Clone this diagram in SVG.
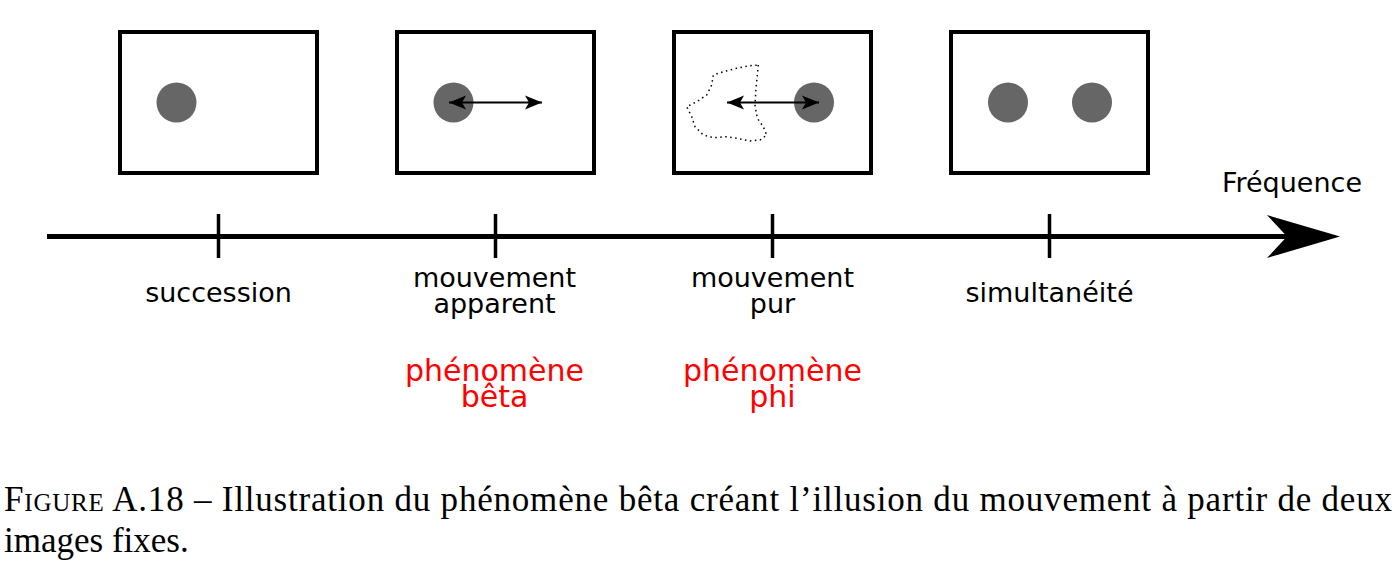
<svg xmlns="http://www.w3.org/2000/svg" width="1399" height="563" viewBox="0 0 1399 563">
<style>
.frame{fill:#fff;stroke:#000;stroke-width:4}
.dot{fill:#666666}
.lbl{font-family:"DejaVu Sans",sans-serif;font-size:27px;text-anchor:middle;fill:#000}
.red{fill:#ff0000;font-size:30px}
.small{stroke:#000;stroke-width:2;fill:none}
.cap{font-family:"Liberation Serif",serif;font-size:35px;fill:#000}
</style>
<defs>
<marker id="ah" viewBox="-18 -8 19 16" refX="0" refY="0" markerWidth="19" markerHeight="16" markerUnits="userSpaceOnUse" orient="auto-start-reverse">
<path d="M0,0 L-17,-7 L-13,0 L-17,7 Z" fill="#000"/>
</marker>
</defs>
<rect width="1399" height="563" fill="#fff"/>
<g id="frame1">
<rect class="frame" x="120" y="32" width="197" height="141"/>
<circle class="dot" cx="176.5" cy="102.5" r="20"/>
</g>
<g id="frame2">
<rect class="frame" x="397" y="32" width="197" height="141"/>
<circle class="dot" cx="453.5" cy="102.5" r="20"/>
<line class="small" x1="449" y1="102.5" x2="542" y2="102.5" marker-start="url(#ah)" marker-end="url(#ah)"/>
</g>
<g id="frame3">
<rect class="frame" x="674" y="32" width="197" height="141"/>
<path d="M758.3,65 L757.3,75 L756,88.3 L755,105 L757.3,118.3 L763.3,126.7 L766.7,135 L760,140 L750,141 L736.7,138.3 L726.7,136.7 L713.3,137.7 L703.3,135 L695,126.7 L691.7,116.7 L686.7,106.7 L696.7,101.7 L706.7,95 L711.7,85 L713.3,75 L723.3,71.7 L736.7,68.3 L750,65.7 Z" fill="none" stroke="#000" stroke-width="1.5" stroke-dasharray="1.5 3.5"/>
<circle class="dot" cx="814" cy="102.5" r="20"/>
<line class="small" x1="727" y1="102.5" x2="819" y2="102.5" marker-start="url(#ah)" marker-end="url(#ah)"/>
</g>
<g id="frame4">
<rect class="frame" x="951" y="32" width="197" height="141"/>
<circle class="dot" cx="1008" cy="102.5" r="20"/>
<circle class="dot" cx="1092" cy="102.5" r="20"/>
</g>
<g id="axis">
<line x1="47" y1="236.5" x2="1292" y2="236.5" stroke="#000" stroke-width="5"/>
<path d="M1340,236.5 L1267,215 L1287,236.5 L1267,258 Z" fill="#000"/>
<g stroke="#000" stroke-width="3.5">
<line x1="218.5" y1="214" x2="218.5" y2="258"/>
<line x1="495.5" y1="214" x2="495.5" y2="258"/>
<line x1="772.5" y1="214" x2="772.5" y2="258"/>
<line x1="1049.5" y1="214" x2="1049.5" y2="258"/>
</g>
<text class="lbl" x="1292" y="192">Fréquence</text>
</g>
<g id="labels">
<text class="lbl" x="218.5" y="302">succession</text>
<text class="lbl" x="494.5" y="287">mouvement</text>
<text class="lbl" x="494.5" y="313">apparent</text>
<text class="lbl" x="772.5" y="287">mouvement</text>
<text class="lbl" x="772.5" y="313">pur</text>
<text class="lbl" x="1049.5" y="302">simultanéité</text>
<text class="lbl red" x="494.5" y="381">phénomène</text>
<text class="lbl red" x="494.5" y="407">bêta</text>
<text class="lbl red" x="772.5" y="381">phénomène</text>
<text class="lbl red" x="772.5" y="407">phi</text>
</g>
<g id="caption">
<text class="cap" x="4" y="511" textLength="1388" lengthAdjust="spacing"><tspan font-variant="small-caps">Figure</tspan> A.18 – Illustration du phénomène bêta créant l’illusion du mouvement à partir de deux</text>
<text class="cap" x="4" y="552">images fixes.</text>
</g>
</svg>
